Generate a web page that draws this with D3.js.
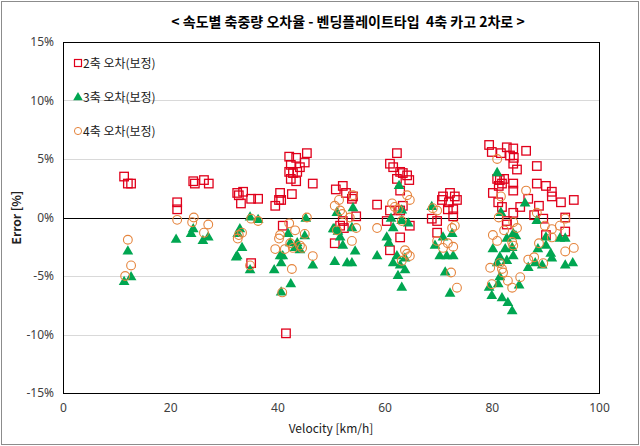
<!DOCTYPE html>
<html><head><meta charset="utf-8">
<script src="https://cdn.jsdelivr.net/npm/d3@7/dist/d3.min.js"></script>
<style>
html,body{margin:0;padding:0;background:#fff;}
text{font-family:"Noto Sans CJK KR","Noto Sans",sans-serif;}
</style></head>
<body><svg id="c" width="640" height="446"></svg>
<script>
const title = "< 속도별 축중량 오차율 - 벤딩플레이트타입  4축 카고 2차로 >";
const seriesNames = ["2축 오차(보정)", "3축 오차(보정)", "4축 오차(보정)"];
const xTicks = [0, 20, 40, 60, 80, 100];
const yTicks = [-15, -10, -5, 0, 5, 10, 15];

// [velocity km/h, error %]
const axle2 = [
[11.4,3.5],[12.1,2.9],[12.7,2.9],[21.3,1.3],[21.3,0.7],[24.3,3.1],[24.6,2.9],[26.3,3.2],[27.2,2.9],
[32.5,2.1],[32.8,1.9],[33.6,2.2],[33.2,1.2],[35.1,1.6],[36.4,1.6],[35.1,-3.9],
[42.2,5.2],[43.5,5.1],[45.5,5.5],[42.5,4.5],[45.1,4.7],[44.2,4.3],[42.2,3.9],[42.9,3.8],[43.7,3.9],
[42.5,3.3],[43.5,3.1],[46.6,2.9],[40.5,2.1],[42.7,2.0],[40.3,1.5],[40.7,1.5],[39.6,1.0],[41.0,-0.7],[41.6,-9.9],
[50.9,2.4],[52.2,2.7],[52.8,2.1],[53.9,1.6],[54.1,1.8],[54.7,0.1],[52.2,-0.3],[52.4,-0.9],[51.7,-0.7],[50.7,-2.2],
[58.6,1.1],[62.3,5.5],[61.0,4.6],[61.6,4.3],[62.9,3.9],[63.4,3.8],[64.2,3.6],[64.6,3.2],[62.3,3.3],[62.9,2.3],
[63.4,1.0],[61.0,0.6],[60.4,-0.3],[62.9,0.6],[64.7,-0.7],[62.9,-1.7],[61.0,-2.8],
[68.8,-0.1],[69.8,-0.3],[69.8,-1.3],[70.7,1.5],[70.9,1.8],[72.2,2.1],[73.1,1.8],[73.5,1.5],[72.0,1.3],[71.8,0.7],[72.8,0.7],[72.8,0.1],
[79.5,6.2],[80.0,5.6],[81.7,5.5],[82.8,6.0],[84.0,5.9],[83.4,5.3],[84.1,5.1],[84.0,4.6],[86.4,5.7],[84.7,4.1],[88.4,4.4],
[81.0,3.3],[81.5,3.2],[82.3,3.3],[81.3,2.7],[81.9,2.9],[84.0,2.9],[84.0,2.3],[80.2,2.1],[88.4,2.9],[90.1,2.7],
[91.2,2.2],[91.2,1.8],[92.9,1.3],[95.3,1.5],[86.8,1.6],[88.8,1.0],[81.2,1.3],[81.9,0.9],[85.3,0.9],[84.0,0.4],
[87.9,0.2],[89.6,-0.1],[93.7,0.0],[93.7,-1.2],[82.8,-0.3],[82.8,-0.6],[90.1,-1.5]
];
const axle3 = [
[12.1,-2.9],[11.4,-5.5],[12.7,-5.1],[21.1,-1.9],[24.3,-1.0],[23.9,-1.4],[26.1,-2.0],[27.1,-1.7],
[34.9,0.0],[36.4,-0.2],[33.0,-1.0],[32.6,-1.4],[33.4,-2.6],[32.5,-3.3],[32.3,-3.4],[34.9,-4.5],
[39.4,-4.5],[40.5,-3.3],[41.0,-3.3],[40.7,-3.9],[42.0,-1.4],[42.4,-2.2],[43.7,-2.2],[44.2,-2.8],[43.3,-2.6],
[45.1,-1.6],[45.3,-0.1],[46.6,-4.1],[42.5,-5.7],[40.7,-6.4],
[50.7,-3.8],[50.4,-1.0],[51.3,-1.2],[53.0,-3.9],[51.1,0.4],[50.6,-1.0],[51.7,-1.7],[52.2,-2.4],[53.9,-0.9],
[54.1,0.8],[54.5,-2.9],[53.9,-3.9],[58.6,-3.3],
[60.4,-1.7],[61.2,-0.1],[61.6,-0.9],[60.8,-2.2],[62.7,2.7],[63.2,0.6],[63.2,-0.3],[64.4,-0.5],[61.6,-3.9],
[62.9,-4.1],[63.8,-4.5],[62.5,-5.0],[63.2,-6.0],[62.3,-3.3],[63.8,-3.5],
[68.8,0.9],[69.4,-2.4],[70.3,-3.3],[71.6,-3.3],[72.8,-3.3],[70.9,-1.7],[72.6,-1.4],[71.3,-4.7],[72.2,-6.5],
[81.0,3.8],[86.2,1.2],[81.7,0.4],[88.4,-0.3],[90.1,-1.7],[92.7,-1.8],[93.7,-1.8],[84.0,-1.4],[84.5,-1.6],
[82.8,-1.8],[80.2,-2.7],[82.5,-2.7],[83.8,-2.6],[84.0,-3.3],[81.5,-3.4],[82.8,-3.7],[81.0,-3.9],[88.6,-2.7],
[90.1,-2.4],[91.0,-3.1],[91.2,-3.5],[88.1,-3.9],[89.4,-4.1],[86.8,-4.3],[93.7,-4.1],[95.1,-3.9],[81.5,-5.1],
[79.5,-6.0],[80.0,-6.7],[81.9,-6.9],[83.0,-7.3],[83.8,-8.0],[85.1,-5.8],[81.2,-5.7]
];
const axle4 = [
[12.1,-1.9],[12.7,-4.1],[11.6,-5.0],[21.3,-0.2],[24.4,0.0],[24.1,-0.4],[26.3,-1.3],[27.1,-0.6],
[35.1,-0.1],[36.4,-0.3],[32.6,-1.8],[32.8,-1.5],[33.4,-1.3],[34.9,-4.1],
[39.6,-2.7],[40.5,-1.5],[40.3,-1.8],[42.2,-0.5],[43.3,-1.1],[41.4,-2.7],[42.4,-2.2],[42.9,-2.6],[44.2,-2.4],
[44.6,-2.6],[45.1,-1.4],[45.5,0.0],[46.6,-3.3],[42.7,-4.4],[40.9,-6.4],
[51.5,1.5],[50.7,1.0],[51.7,0.6],[52.1,0.3],[53.5,0.0],[54.1,1.9],[54.7,-0.9],[53.9,-2.0],[51.1,-1.1],
[58.6,-0.9],[61.4,1.2],[62.5,0.7],[63.2,-0.3],[64.2,1.9],[64.7,1.5],[63.8,-2.8],[64.2,-3.1],[64.7,-3.3],
[63.2,-3.7],[61.9,0.9],
[69.8,-2.0],[70.9,-2.6],[71.8,-2.2],[72.8,-2.5],[72.6,-0.9],[73.1,-0.7],[69.0,0.8],[69.8,0.6],[72.4,-4.7],[73.5,-6.0],
[81.0,5.0],[86.4,2.3],[81.7,1.8],[81.3,0.0],[82.3,-1.1],[80.2,-1.5],[81.0,-2.0],[84.0,-0.4],[84.7,-0.9],
[83.8,-2.1],[84.0,-2.4],[88.4,0.4],[89.9,-0.7],[91.2,-1.0],[91.2,-1.7],[92.7,-0.7],[93.7,-0.1],[93.7,-2.9],
[95.3,-2.6],[88.8,-2.2],[86.8,-3.6],[87.9,-3.4],[89.6,-3.9],[79.7,-4.3],[81.9,-4.4],[82.1,-4.7],[80.0,-5.7],
[83.0,-5.4],[83.8,-6.0],[85.3,-5.1],[81.5,-3.9]
];

const svg = d3.select("#c");
const W = 640, H = 446;
const m = {l:63, t:42, r:599, b:393};
const x = d3.scaleLinear().domain([0,100]).range([m.l, m.r]);
const y = d3.scaleLinear().domain([-15,15]).range([m.b, m.t]);

const red = "#e0001b", green = "#00a651", orange = "#e5853e";

// outer frame
svg.append("rect").attr("x",1.5).attr("y",1.5).attr("width",W-3).attr("height",H-3)
  .attr("fill","#fff").attr("stroke","#8c8c8c").attr("stroke-width",1);

// title
svg.append("text").attr("x",348).attr("y",27).attr("text-anchor","middle")
  .attr("font-size",14).attr("font-weight","bold").attr("fill","#000")
  .style("white-space","pre").attr("xml:space","preserve").text(title);

// gridlines
svg.append("g").selectAll("line").data(yTicks.filter(d=>d!==0 && d!==15 && d!==-15)).join("line")
  .attr("x1",m.l).attr("x2",m.r).attr("y1",d=>Math.round(y(d))+0.5).attr("y2",d=>Math.round(y(d))+0.5)
  .attr("stroke","#d9d9d9").attr("stroke-width",1);

// y axis labels
const yAxis = d3.axisLeft(y).tickValues(yTicks).tickSize(0).tickPadding(9).tickFormat(d=>d+"%");
const gy = svg.append("g").attr("transform",`translate(${m.l},0)`).call(yAxis);
gy.select(".domain").remove();
gy.selectAll("text").attr("font-size",12).attr("fill","#404040")
  .style("font-family","'Noto Sans','Noto Sans CJK KR',sans-serif");

// x axis labels
const xAxis = d3.axisBottom(x).tickValues(xTicks).tickSize(0).tickPadding(10);
const gx = svg.append("g").attr("transform",`translate(0,${m.b})`).call(xAxis);
gx.select(".domain").remove();
gx.selectAll("text").attr("font-size",12).attr("fill","#404040")
  .style("font-family","'Noto Sans','Noto Sans CJK KR',sans-serif");

// axis titles
svg.append("text").attr("x",331).attr("y",433).attr("text-anchor","middle")
  .attr("font-size",12).attr("fill","#202020").text("Velocity [km/h]");
svg.append("text").attr("transform",`translate(21,${(m.t+m.b)/2}) rotate(-90)`)
  .attr("text-anchor","middle").attr("font-size",12).attr("font-weight","bold").attr("fill","#202020").text("Error [%]");

// plot frame
svg.append("rect").attr("x",m.l+0.5).attr("y",m.t+0.5).attr("width",m.r-m.l).attr("height",m.b-m.t)
  .attr("fill","none").attr("stroke","#000").attr("stroke-width",1);

// zero line
svg.append("line").attr("x1",m.l).attr("x2",m.r).attr("y1",Math.round(y(0))+0.5).attr("y2",Math.round(y(0))+0.5)
  .attr("stroke","#000").attr("stroke-width",1.2);

const plot = svg.append("g");
const sq = 8.5;
plot.selectAll("rect.s2").data(axle2).join("rect").attr("class","s2")
  .attr("x",d=>x(d[0])-sq/2).attr("y",d=>y(d[1])-sq/2).attr("width",sq).attr("height",sq)
  .attr("fill","none").attr("stroke",red).attr("stroke-width",1.3);

const tri = d3.symbol().type(d3.symbolTriangle).size(50);
plot.selectAll("path.s3").data(axle3).join("path").attr("class","s3")
  .attr("transform",d=>`translate(${x(d[0])},${y(d[1])})`).attr("d",tri).attr("fill",green);

plot.selectAll("circle.s4").data(axle4).join("circle").attr("class","s4")
  .attr("cx",d=>x(d[0])).attr("cy",d=>y(d[1])).attr("r",4.4)
  .attr("fill","none").attr("stroke",orange).attr("stroke-width",1.1);

// legend
const lg = svg.append("g");
const lgY = [63, 97, 131];
lg.append("rect").attr("x",74.5).attr("y",lgY[0]-3.5).attr("width",7).attr("height",7)
  .attr("fill","none").attr("stroke",red).attr("stroke-width",1.2);
lg.append("path").attr("transform",`translate(78,${lgY[1]+0.5})`).attr("d",d3.symbol().type(d3.symbolTriangle).size(40)).attr("fill",green);
lg.append("circle").attr("cx",78).attr("cy",lgY[2]).attr("r",3.6).attr("fill","none").attr("stroke",orange).attr("stroke-width",1);
lg.selectAll("text").data(seriesNames).join("text")
  .attr("x",83).attr("y",(d,i)=>lgY[i]+4.5).attr("font-size",12).attr("fill","#202020").text(d=>d);
</script></body></html>
